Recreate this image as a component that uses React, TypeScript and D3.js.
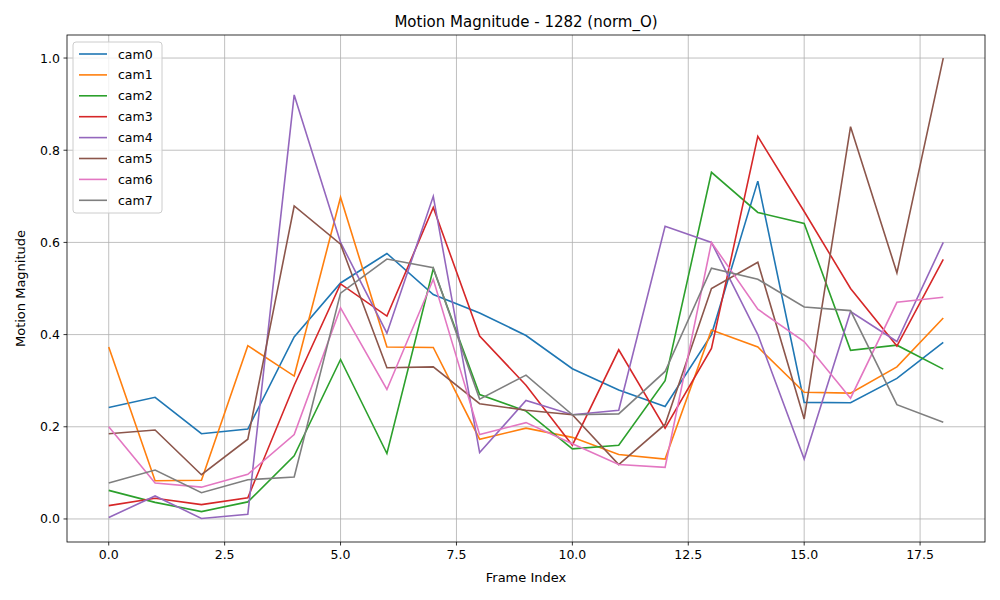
import React from "react";
import * as d3 from "d3";

const frames = d3.range(19);
const seriesNames = ["cam0", "cam1", "cam2", "cam3", "cam4", "cam5", "cam6", "cam7"];
const colors = ["#1f77b4", "#ff7f0e", "#2ca02c", "#d62728", "#9467bd", "#8c564b", "#e377c2", "#7f7f7f"];

const cam0 = [0.242, 0.264, 0.185, 0.195, 0.395, 0.512, 0.576, 0.487, 0.447, 0.398, 0.326, 0.28, 0.244, 0.4, 0.733, 0.253, 0.252, 0.305, 0.383];
const cam1 = [0.373, 0.083, 0.084, 0.376, 0.31, 0.698, 0.373, 0.372, 0.173, 0.197, 0.177, 0.14, 0.13, 0.41, 0.373, 0.275, 0.273, 0.33, 0.436];
const cam2 = [0.062, 0.036, 0.016, 0.037, 0.137, 0.346, 0.142, 0.543, 0.27, 0.234, 0.152, 0.16, 0.3, 0.752, 0.665, 0.641, 0.366, 0.377, 0.325];
const cam3 = [0.029, 0.045, 0.031, 0.046, 0.29, 0.51, 0.44, 0.676, 0.397, 0.29, 0.16, 0.367, 0.197, 0.37, 0.83, 0.667, 0.5, 0.375, 0.563];
const cam4 = [0.003, 0.05, 0.001, 0.01, 0.92, 0.6, 0.403, 0.7, 0.144, 0.257, 0.226, 0.236, 0.635, 0.6, 0.4, 0.13, 0.45, 0.385, 0.6];
const cam5 = [0.185, 0.193, 0.096, 0.173, 0.679, 0.596, 0.328, 0.33, 0.25, 0.236, 0.226, 0.118, 0.205, 0.5, 0.557, 0.217, 0.851, 0.534, 1.0];
const cam6 = [0.2, 0.078, 0.069, 0.097, 0.183, 0.458, 0.281, 0.52, 0.183, 0.209, 0.163, 0.118, 0.112, 0.6, 0.455, 0.385, 0.262, 0.47, 0.481];
const cam7 = [0.078, 0.106, 0.057, 0.085, 0.091, 0.49, 0.564, 0.545, 0.26, 0.312, 0.226, 0.228, 0.32, 0.544, 0.52, 0.46, 0.452, 0.248, 0.21];
const allSeries = [cam0, cam1, cam2, cam3, cam4, cam5, cam6, cam7];

const xTicks = [0, 2.5, 5, 7.5, 10, 12.5, 15, 17.5];
const yTicks = [0, 0.2, 0.4, 0.6, 0.8, 1.0];

export default function App() {
  const W = 1000, H = 600;
  const m = { left: 67, right: 985, top: 35, bottom: 542 };
  const x = d3.scaleLinear().domain([-0.9, 18.9]).range([m.left, m.right]);
  const y = d3.scaleLinear().domain([-0.05, 1.05]).range([m.bottom, m.top]);
  const line = d3.line<number>().x((_, i) => x(frames[i])).y(d => y(d));
  const font = "DejaVu Sans, sans-serif";

  return (
    <svg width={W} height={H} style={{ position: "absolute", left: 0, top: 0, background: "#fff" }} fontFamily={font}>
      <rect width={W} height={H} fill="#fff" />
      {xTicks.map(t => (
        <g key={"x" + t}>
          <line x1={x(t)} x2={x(t)} y1={m.top} y2={m.bottom} stroke="#b0b0b0" strokeWidth={0.8} />
          <line x1={x(t)} x2={x(t)} y1={m.bottom} y2={m.bottom + 3.5} stroke="#000" strokeWidth={0.8} />
          <text x={x(t)} y={m.bottom + 17} fontSize={12.5} textAnchor="middle">{t.toFixed(1)}</text>
        </g>
      ))}
      {yTicks.map(t => (
        <g key={"y" + t}>
          <line x1={m.left} x2={m.right} y1={y(t)} y2={y(t)} stroke="#b0b0b0" strokeWidth={0.8} />
          <line x1={m.left - 3.5} x2={m.left} y1={y(t)} y2={y(t)} stroke="#000" strokeWidth={0.8} />
          <text x={m.left - 7} y={y(t) + 4.5} fontSize={12.5} textAnchor="end">{t.toFixed(1)}</text>
        </g>
      ))}
      {allSeries.map((s, i) => (
        <path key={i} d={line(s) || ""} fill="none" stroke={colors[i]} strokeWidth={1.6} />
      ))}
      <rect x={m.left} y={m.top} width={m.right - m.left} height={m.bottom - m.top} fill="none" stroke="#000" strokeWidth={0.8} />
      <text x={(m.left + m.right) / 2} y={27} fontSize={15} textAnchor="middle">Motion Magnitude - 1282 (norm_O)</text>
      <text x={(m.left + m.right) / 2} y={582} fontSize={13} textAnchor="middle">Frame Index</text>
      <text transform={`translate(25,${(m.top + m.bottom) / 2}) rotate(-90)`} fontSize={13} textAnchor="middle">Motion Magnitude</text>
      <g transform="translate(73,42)">
        <rect width={89} height={171} rx={3} fill="#fff" fillOpacity={0.8} stroke="#ccc" />
        {seriesNames.map((n, i) => (
          <g key={n} transform={`translate(0,${12 + i * 20.9})`}>
            <line x1={6} x2={34} y1={0} y2={0} stroke={colors[i]} strokeWidth={1.6} />
            <text x={45} y={4.5} fontSize={12.5}>{n}</text>
          </g>
        ))}
      </g>
    </svg>
  );
}
